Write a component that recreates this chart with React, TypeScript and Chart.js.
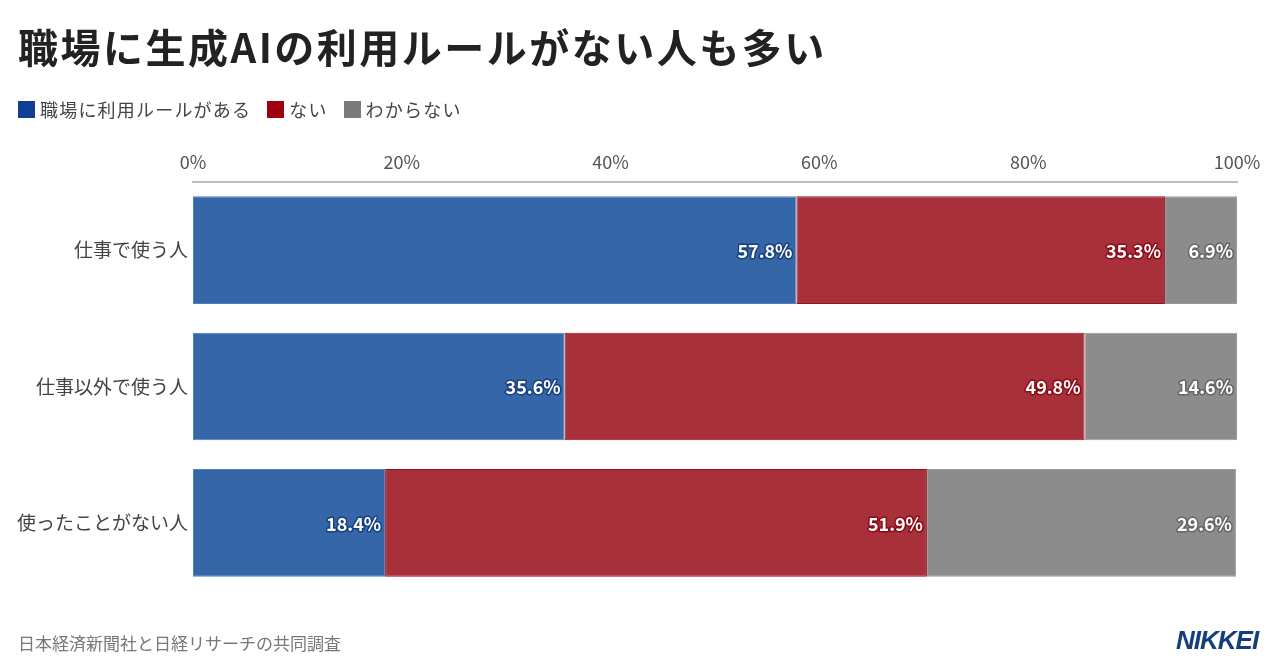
import React, { useEffect, useRef } from "react";
import { Chart, registerables } from "chart.js";

Chart.register(...registerables);

const categories = ["仕事で使う人", "仕事以外で使う人", "使ったことがない人"];
const seriesNames = ["職場に利用ルールがある", "ない", "わからない"];
const haveRule = [57.8, 35.6, 18.4];
const noRule = [35.3, 49.8, 51.9];
const unknown = [6.9, 14.6, 29.6];
const xTicks = [0, 20, 40, 60, 80, 100];

const FONT = '"Noto Sans CJK JP", "Noto Sans", sans-serif';
const barColors = ["#3567a8", "#a8303a", "#8c8c8c"];
const barBorders = ["#4c80c2", "#9a0f1c", "#9a9a9a"];
const labelStrokes = ["#16407f", "#8c0b18", "#666666"];
const legendColors = ["#0f3e94", "#a0000f", "#7a7a7a"];

const labelPlugin = {
  id: "segLabels",
  afterDatasetsDraw(chart: any) {
    const ctx = chart.ctx;
    ctx.save();
    ctx.font = `bold 18px ${FONT}`;
    ctx.textAlign = "right";
    ctx.textBaseline = "middle";
    ctx.lineJoin = "round";
    chart.data.datasets.forEach((ds: any, di: number) => {
      const meta = chart.getDatasetMeta(di);
      meta.data.forEach((el: any, i: number) => {
        const v = ds.data[i];
        const txt = v.toFixed(1) + "%";
        const x = el.x - 4;
        const y = el.y + 1;
        ctx.lineWidth = 3;
        ctx.strokeStyle = labelStrokes[di];
        ctx.strokeText(txt, x, y);
        ctx.fillStyle = "#ffffff";
        ctx.fillText(txt, x, y);
      });
    });
    ctx.restore();
  },
};

export default function App() {
  const ref = useRef<HTMLCanvasElement | null>(null);
  useEffect(() => {
    if (!ref.current) return;
    const series = [haveRule, noRule, unknown];
    const chart = new Chart(ref.current, {
      type: "bar",
      data: {
        labels: categories,
        datasets: series.map((d, i) => ({
          label: seriesNames[i],
          data: d,
          backgroundColor: barColors[i],
          borderColor: barBorders[i],
          borderWidth: 1,
          borderSkipped: false,
          categoryPercentage: 1,
          barPercentage: 0.79,
        })),
      },
      options: {
        indexAxis: "y",
        responsive: false,
        animation: false,
        devicePixelRatio: 1,
        layout: { padding: { left: 0, top: 0, right: 43, bottom: 81 } },
        plugins: {
          legend: { display: false },
          title: { display: false },
          tooltip: { enabled: false },
        },
        scales: {
          x: {
            position: "top",
            stacked: true,
            min: 0,
            max: 100,
            afterBuildTicks: (scale: any) => {
              scale.ticks = xTicks.map((v) => ({ value: v }));
            },
            afterFit: (scale: any) => {
              scale.height = 182;
            },
            grid: { display: false, drawTicks: false },
            border: { display: true, color: "#bdbdbd", width: 2 },
            ticks: {
              padding: 9,
              color: "#555555",
              font: { family: FONT, size: 18 },
              callback: (v: any) => v + "%",
            },
          },
          y: {
            stacked: true,
            afterFit: (scale: any) => {
              scale.width = 193;
            },
            grid: { display: false, drawTicks: false },
            border: { display: false },
            ticks: {
              padding: 5,
              color: "#444444",
              font: { family: FONT, size: 19 },
            },
          },
        },
      },
      plugins: [labelPlugin],
    } as any);
    return () => chart.destroy();
  }, []);

  return (
    <div
      style={{
        position: "fixed",
        left: 0,
        top: 0,
        width: 1280,
        height: 672,
        background: "#ffffff",
        fontFamily: FONT,
        overflow: "hidden",
      }}
    >
      <canvas
        ref={ref}
        width={1280}
        height={672}
        style={{ position: "absolute", left: 0, top: 0, width: 1280, height: 672 }}
      />
      <div
        style={{
          position: "absolute",
          left: 18,
          top: 22,
          fontSize: 40,
          fontWeight: 700,
          lineHeight: "48px",
          letterSpacing: 2.5,
          color: "#222222",
          whiteSpace: "nowrap",
        }}
      >
        職場に生成AIの利用ルールがない人も多い
      </div>
      <div
        style={{
          position: "absolute",
          left: 18,
          top: 96,
          display: "flex",
          alignItems: "center",
          fontSize: 18,
          lineHeight: "26px",
          color: "#444444",
          whiteSpace: "nowrap",
        }}
      >
        {seriesNames.map((n, i) => (
          <div key={n} style={{ display: "flex", alignItems: "center", marginRight: 16 }}>
            <span
              style={{
                display: "inline-block",
                width: 17,
                height: 17,
                background: legendColors[i],
                marginRight: 5,
              }}
            />
            <span style={{ letterSpacing: 1.2 }}>{n}</span>
          </div>
        ))}
      </div>
      <div
        style={{
          position: "absolute",
          left: 18,
          top: 630,
          fontSize: 17,
          lineHeight: "26px",
          color: "#777777",
          whiteSpace: "nowrap",
        }}
      >
        日本経済新聞社と日経リサーチの共同調査
      </div>
      <div
        style={{
          position: "absolute",
          left: 1176,
          top: 625,
          fontFamily: '"Liberation Sans", Arial, sans-serif',
          fontSize: 26,
          fontWeight: 700,
          fontStyle: "italic",
          lineHeight: "30px",
          color: "#153f7c",
          letterSpacing: -1,
        }}
      >
        NIKKEI
      </div>
    </div>
  );
}
